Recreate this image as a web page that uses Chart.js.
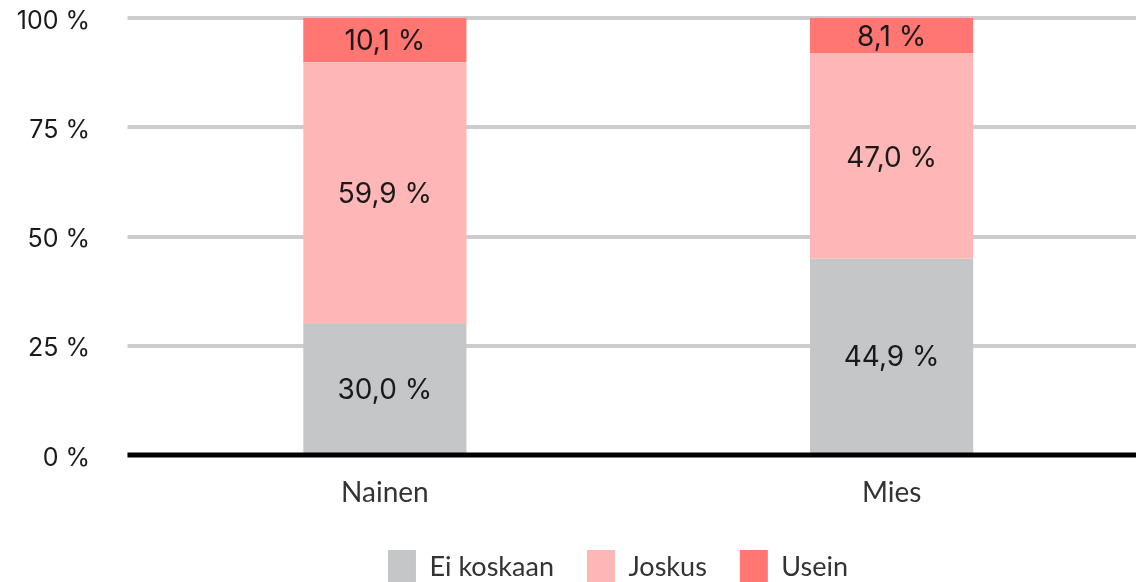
<!DOCTYPE html>
<html>
<head>
<meta charset="utf-8">
<script src="https://cdn.jsdelivr.net/npm/chart.js@4"></script>
<style>
  html, body { margin: 0; padding: 0; background: #fff; overflow: hidden; }
  #wrap { width: 1145px; height: 594px; }
</style>
</head>
<body>
<div id="wrap"><canvas id="bar-chart" width="1145" height="594"></canvas></div>
<script>
const categories = ["Nainen", "Mies"];
const seriesNames = ["Ei koskaan", "Joskus", "Usein"];
const eiKoskaan = [30.0, 44.9];
const joskus = [59.9, 47.0];
const usein = [10.1, 8.1];
const yTicks = [0, 25, 50, 75, 100];
const colors = ["#c5c6c8", "#ffb6b6", "#ff7673"];

const tickFont = { family: 'Inter', size: 25 };

function fmt(v) {
    return v.toFixed(1).replace('.', ',') + ' %';
}
function tickLabel(v) {
    return v + ' %';
}

// y labels are mirrored (so they are not clipped to the narrow axis box) and pushed back left
let mctx = document.createElement('canvas').getContext('2d');
mctx.font = tickFont.size + 'px ' + tickFont.family;
let widest = Math.max(...yTicks.map(v => mctx.measureText(tickLabel(v)).width));
let yAxisRight = 131.5;
let labelRight = 90;

// value labels in the middle of each segment + black zero line on top of the bars
const barLabels = {
    id: 'barLabels',
    afterDatasetsDraw(chart) {
        let ctx = chart.ctx;
        ctx.save();
        ctx.font = '28px Inter';
        ctx.fillStyle = '#1a1a1a';
        ctx.textAlign = 'center';
        ctx.textBaseline = 'middle';
        chart.data.datasets.forEach((ds, i) => {
            chart.getDatasetMeta(i).data.forEach((bar, j) => {
                ctx.fillText(fmt(ds.data[j]), bar.x, (bar.y + bar.base) / 2 + 2);
            });
        });
        let y0 = chart.scales.y.getPixelForValue(0);
        ctx.strokeStyle = '#000';
        ctx.lineWidth = 5;
        ctx.beginPath();
        ctx.moveTo(chart.chartArea.left - 4, y0);
        ctx.lineTo(chart.chartArea.right, y0);
        ctx.stroke();
        ctx.restore();
    }
};

let chartdata = {
    labels: categories,
    datasets: [
        { label: seriesNames[0], data: eiKoskaan, backgroundColor: colors[0] },
        { label: seriesNames[1], data: joskus, backgroundColor: colors[1] },
        { label: seriesNames[2], data: usein, backgroundColor: colors[2] }
    ]
};

new Chart(document.getElementById('bar-chart'), {
    type: 'bar',
    data: chartdata,
    plugins: [barLabels],
    options: {
        responsive: false,
        animation: false,
        devicePixelRatio: 1,
        categoryPercentage: 1,
        barPercentage: 0.322,
        layout: { padding: { left: 91, top: 18, right: 0, bottom: 0 } },
        scales: {
            x: {
                stacked: true,
                grid: { display: false },
                border: { display: false },
                ticks: { font: { family: 'Lato', size: 28 }, color: '#333', padding: 13 },
                afterFit: s => { s.height = 62; }
            },
            y: {
                stacked: true,
                min: 0,
                max: 100,
                afterBuildTicks: s => { s.ticks = yTicks.map(v => ({ value: v })); },
                grid: { color: '#cccccc', lineWidth: 4, tickLength: 4 },
                border: { display: false },
                ticks: {
                    font: tickFont,
                    color: '#1a1a1a',
                    mirror: true,
                    crossAlign: 'far',
                    labelOffset: 3,
                    padding: labelRight - yAxisRight - widest,
                    callback: tickLabel
                },
                afterFit: s => { s.width = yAxisRight - 91; }
            }
        },
        plugins: {
            legend: {
                position: 'bottom',
                labels: {
                    boxWidth: 28,
                    boxHeight: 34,
                    padding: 33,
                    font: { family: 'Lato', size: 27 },
                    color: '#333'
                }
            },
            tooltip: { enabled: false }
        }
    }
});
</script>
</body>
</html>
